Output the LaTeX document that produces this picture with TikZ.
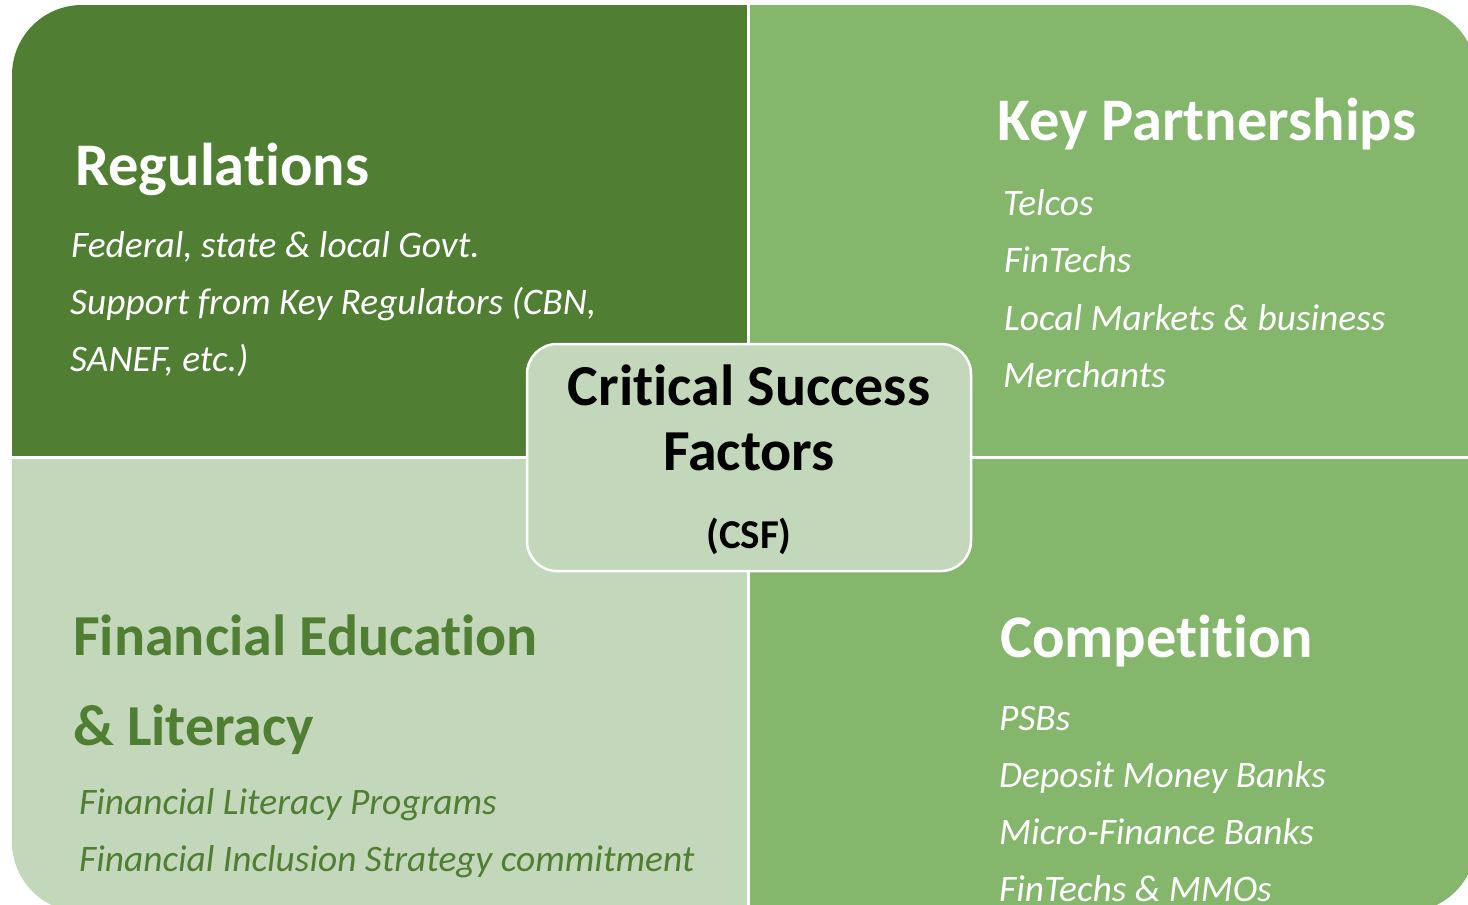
\documentclass[tikz,border=0pt]{standalone}
\usepackage{fontspec}
\setmainfont{Carlito}[RawFeature={-liga,-dlig}]
\definecolor{darkgreen}{HTML}{507E33}
\definecolor{midgreen}{HTML}{84B76C}
\definecolor{palegreen}{HTML}{C3D8BB}
\begin{document}
\begin{tikzpicture}[x=1pt,y=-1pt,
  title/.style={anchor=base west,inner sep=0pt,font=\fontsize{60.5}{72}\selectfont\bfseries},
  item/.style={anchor=base west,inner sep=0pt,font=\fontsize{37.4}{44}\selectfont\itshape},
  divider/.style={white,line width=3pt}]
\useasboundingbox (0,0) rectangle (1468,905);
% four quadrants inside one rounded frame
\begin{scope}
  \clip[rounded corners=70pt] (12,5) rectangle (1476,912);
  \fill[darkgreen] (12,5) rectangle (748.5,457);
  \fill[midgreen] (748.5,5) rectangle (1476,457);
  \fill[palegreen] (12,457) rectangle (748.5,912);
  \fill[midgreen] (748.5,457) rectangle (1476,912);
  \draw[divider] (748.5,0) -- (748.5,912);
  \draw[divider] (0,457) -- (1476,457);
\end{scope}
% central label
\node[draw=white,line width=2.5pt,fill=palegreen,rounded corners=30pt,
      minimum width=444pt,minimum height=227pt,inner sep=0pt] (csf) at (749,457.5) {};
\node[anchor=base,inner sep=0pt,font=\fontsize{58}{70}\selectfont\bfseries] (csf1) at (749,405) {Critical Success};
\node[anchor=base,inner sep=0pt,font=\fontsize{58}{70}\selectfont\bfseries] (csf2) at (749,470) {Factors};
\node[anchor=base,inner sep=0pt,font=\fontsize{41}{50}\selectfont\bfseries] (csf3) at (749,548) {(CSF)};
% Regulations
\node[title,white] (reg) at (75,185) {Regulations};
\node[item,white] (reg1) at (71,257) {Federal, state \& local Govt.};
\node[item,white] (reg2) at (70,314) {Support from Key Regulators (CBN,};
\node[item,white] (reg3) at (70,371) {SANEF, etc.)};
% Key Partnerships
\node[title,white] (kp) at (997,140) {Key Partnerships};
\node[item,white] (kp1) at (1003,215) {Telcos};
\node[item,white] (kp2) at (1004,272) {FinTechs};
\node[item,white] (kp3) at (1004,330) {Local Markets \& business};
\node[item,white] (kp4) at (1003,387) {Merchants};
% Financial Education & Literacy
\node[title,darkgreen,font=\fontsize{58}{70}\selectfont\bfseries] (fe1) at (73,655) {Financial Education};
\node[title,darkgreen,font=\fontsize{58}{70}\selectfont\bfseries] (fe2) at (73,745) {\& Literacy};
\node[item,darkgreen] (fe3) at (79,814) {Financial Literacy Programs};
\node[item,darkgreen] (fe4) at (79,871) {Financial Inclusion Strategy commitment};
% Competition
\node[title,white] (comp) at (1000,657) {Competition};
\node[item,white] (comp1) at (999,730) {PSBs};
\node[item,white] (comp2) at (999,787) {Deposit Money Banks};
\node[item,white] (comp3) at (999,844) {Micro-Finance Banks};
\node[item,white] (comp4) at (999,901) {FinTechs \& MMOs};
\end{tikzpicture}
\end{document}
